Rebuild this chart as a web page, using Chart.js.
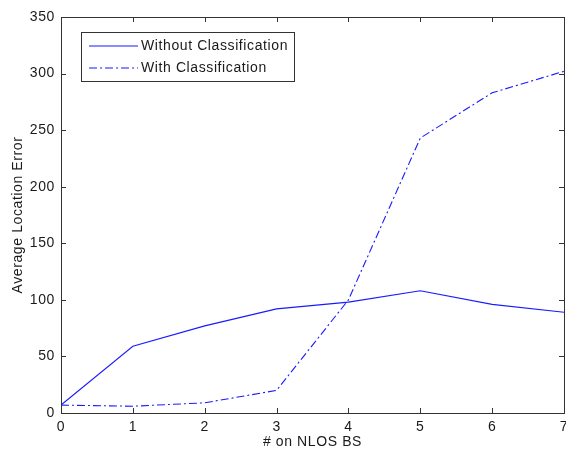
<!DOCTYPE html>
<html>
<head>
<meta charset="utf-8">
<script src="https://cdn.jsdelivr.net/npm/chart.js@4.4.0/dist/chart.umd.min.js"></script>
<style>
  html, body { margin: 0; padding: 0; background: #fff; }
  canvas { display: block; }
</style>
</head>
<body>
<canvas id="errChart" width="566" height="451"></canvas>
<script>
const nlosCounts = [0, 1, 2, 3, 4, 5, 6, 7];
const withoutClassification = [7, 59, 77, 92, 98, 108, 96, 89];
const withClassification = [7, 6, 9, 20, 100, 243, 283, 302];
const xTicks = [0, 1, 2, 3, 4, 5, 6, 7];
const yTicks = [0, 50, 100, 150, 200, 250, 300, 350];

const FONT = 'Liberation Sans, Arial, sans-serif';
const FONT_SIZE = 14;
const AXIS_COLOR = '#333';
const TEXT_COLOR = '#1a1a1a';

function points(ys) {
    return nlosCounts.map((x, i) => ({ x: x, y: ys[i] }));
}

// slightly wider text spacing for every label on the canvas
// (canvas resizing resets the context, so set it before layout and drawing)
const wideText = {
    id: 'wideText',
    beforeUpdate(chart) { chart.ctx.letterSpacing = '0.6px'; },
    beforeLayout(chart) { chart.ctx.letterSpacing = '0.6px'; },
    beforeDraw(chart) { chart.ctx.letterSpacing = '0.6px'; }
};

// box around the axes, inward tick marks on all sides, legend in the upper left
const matlabAxes = {
    id: 'matlabAxes',
    afterDraw(chart) {
        const ctx = chart.ctx;
        const a = chart.chartArea;
        const xs = chart.scales.x, ys = chart.scales.y;
        const tl = 5;
        ctx.save();
        ctx.strokeStyle = AXIS_COLOR;
        ctx.lineWidth = 1;
        ctx.strokeRect(Math.round(a.left) + 0.5, Math.round(a.top) + 0.5,
            Math.round(a.right - a.left), Math.round(a.bottom - a.top));
        ctx.beginPath();
        xTicks.forEach(v => {
            const px = Math.round(xs.getPixelForValue(v)) + 0.5;
            ctx.moveTo(px, a.bottom); ctx.lineTo(px, a.bottom - tl);
            ctx.moveTo(px, a.top); ctx.lineTo(px, a.top + tl);
        });
        yTicks.forEach(v => {
            const py = Math.round(ys.getPixelForValue(v)) + 0.5;
            ctx.moveTo(a.left, py); ctx.lineTo(a.left + tl, py);
            ctx.moveTo(a.right, py); ctx.lineTo(a.right - tl, py);
        });
        ctx.stroke();

        // legend
        const bx = 81, by = 32, bw = 213, bh = 49;
        ctx.fillStyle = '#fff';
        ctx.fillRect(bx, by, bw, bh);
        ctx.strokeStyle = AXIS_COLOR;
        ctx.strokeRect(bx + 0.5, by + 0.5, bw, bh);
        ctx.font = FONT_SIZE + 'px ' + FONT;
        ctx.letterSpacing = '0.6px';
        ctx.textBaseline = 'middle';
        ctx.textAlign = 'left';
        chart.data.datasets.forEach((ds, i) => {
            const ry = by + 14 + i * 22;
            ctx.strokeStyle = ds.borderColor;
            ctx.lineWidth = ds.borderWidth;
            ctx.setLineDash(ds.borderDash || []);
            ctx.beginPath();
            ctx.moveTo(89, ry); ctx.lineTo(138, ry);
            ctx.stroke();
            ctx.setLineDash([]);
            ctx.fillStyle = TEXT_COLOR;
            ctx.fillText(ds.label, 141, ry);
        });
        ctx.restore();
    }
};

new Chart(document.getElementById('errChart'), {
    type: 'line',
    data: {
        datasets: [{
            label: 'Without Classification',
            data: points(withoutClassification),
            borderColor: '#1a1aff',
            borderWidth: 1.1,
            pointRadius: 0,
            tension: 0
        }, {
            label: 'With Classification',
            data: points(withClassification),
            borderColor: '#1a1aff',
            borderWidth: 1.1,
            borderDash: [8, 3, 2, 3],
            pointRadius: 0,
            tension: 0
        }]
    },
    options: {
        responsive: false,
        animation: false,
        layout: { padding: { top: 17, right: 2, left: 0, bottom: 0 } },
        plugins: { legend: { display: false }, tooltip: { enabled: false } },
        scales: {
            x: {
                type: 'linear',
                min: 0, max: 7,
                afterBuildTicks: s => { s.ticks = xTicks.map(v => ({ value: v })); },
                afterFit: s => { s.height = 38; s.paddingLeft = 0; s.paddingRight = 0; },
                grid: { display: false, drawTicks: false },
                border: { display: false },
                ticks: { padding: 6, color: TEXT_COLOR, font: { family: FONT, size: FONT_SIZE }, maxRotation: 0 },
                title: {
                    display: true,
                    text: '# on NLOS BS',
                    color: TEXT_COLOR,
                    font: { family: FONT, size: FONT_SIZE },
                    padding: { top: 0, bottom: 0 }
                }
            },
            y: {
                min: 0, max: 350,
                afterBuildTicks: s => { s.ticks = yTicks.map(v => ({ value: v })); },
                afterFit: s => { s.width = 61; s.paddingTop = 0; s.paddingBottom = 0; },
                grid: { display: false, drawTicks: false },
                border: { display: false },
                ticks: { padding: 6, color: TEXT_COLOR, font: { family: FONT, size: FONT_SIZE } },
                title: {
                    display: true,
                    text: 'Average Location Error',
                    color: TEXT_COLOR,
                    font: { family: FONT, size: FONT_SIZE },
                    padding: { top: 10, bottom: 0 }
                }
            }
        }
    },
    plugins: [wideText, matlabAxes]
});
</script>
</body>
</html>
